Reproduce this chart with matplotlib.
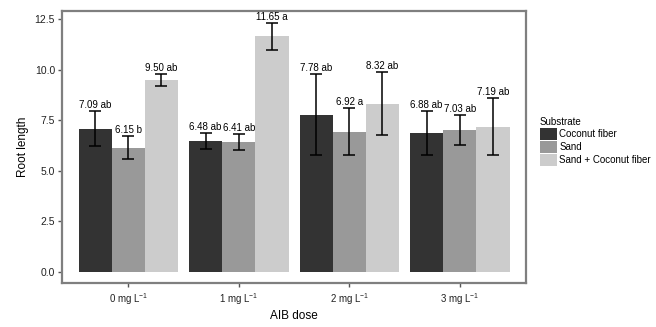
import numpy as np
import matplotlib.pyplot as plt

# data
doses = ['0 mg L$^{-1}$', '1 mg L$^{-1}$', '2 mg L$^{-1}$', '3 mg L$^{-1}$']
substrates = ['Coconut fiber', 'Sand', 'Sand + Coconut fiber']
coconut = [7.09, 6.48, 7.78, 6.88]
sand = [6.15, 6.41, 6.92, 7.03]
mix = [9.50, 11.65, 8.32, 7.19]
coconut_err = [0.86, 0.38, 2.00, 1.10]
sand_err = [0.56, 0.40, 1.16, 0.73]
mix_err = [0.30, 0.66, 1.55, 1.42]
coconut_lbl = ['ab', 'ab', 'ab', 'ab']
sand_lbl = ['b', 'ab', 'a', 'ab']
mix_lbl = ['ab', 'a', 'ab', 'ab']

plt.rcParams['font.family'] = ['Liberation Sans Narrow', 'Liberation Sans', 'DejaVu Sans']
plt.rcParams['mathtext.fontset'] = 'custom'
plt.rcParams['mathtext.rm'] = 'Liberation Sans'

fig = plt.figure(figsize=(6.56, 3.27), dpi=100)
ax = fig.add_axes([0.0945, 0.1346, 0.7075, 0.832])

colors = ['#333333', '#999999', '#cccccc']
x = np.arange(1, len(doses) + 1)
w = 0.3
series = [(coconut, coconut_err, coconut_lbl),
          (sand, sand_err, sand_lbl),
          (mix, mix_err, mix_lbl)]

for i, (vals, errs, lbls) in enumerate(series):
    pos = x + (i - 1) * w
    ax.bar(pos, vals, width=w, color=colors[i], label=substrates[i], zorder=2)
    ax.errorbar(pos, vals, yerr=errs, fmt='none', ecolor='black',
                elinewidth=1.1, capsize=4, capthick=1.1, zorder=3)
    for p, v, e, l in zip(pos, vals, errs, lbls):
        ax.text(p, v + e + 0.05, f'{v:.2f} {l}', ha='center', va='bottom',
                fontsize=7, color='black', zorder=4)

ax.set_xlim(0.4, 4.6)
ax.set_ylim(-0.54, 12.9)
ax.set_xticks(x)
ax.set_xticklabels(doses)
ax.set_yticks([0, 2.5, 5, 7.5, 10, 12.5])
ax.set_yticklabels(['0.0', '2.5', '5.0', '7.5', '10.0', '12.5'])
ax.tick_params(axis='both', length=3, width=1, color='#555555',
               labelcolor='#222222')
ax.tick_params(axis='y', labelsize=7.5, pad=2)
ax.tick_params(axis='x', labelsize=7, pad=3)
ax.set_xlabel('AIB dose', fontsize=8.5, labelpad=2)
ax.set_ylabel('Root length', fontsize=8.5, labelpad=4)

for s in ax.spines.values():
    s.set_color('#7f7f7f')
    s.set_linewidth(1.6)

leg = ax.legend(title='Substrate', loc='upper left', bbox_to_anchor=(1.03, 0.61),
                frameon=False, fontsize=7, title_fontsize=7,
                handlelength=1.7, handleheight=1.5, handletextpad=0.3,
                labelspacing=0.1, borderaxespad=0, borderpad=0)
leg._legend_box.align = 'left'

fig.savefig('out.png', dpi=100)
